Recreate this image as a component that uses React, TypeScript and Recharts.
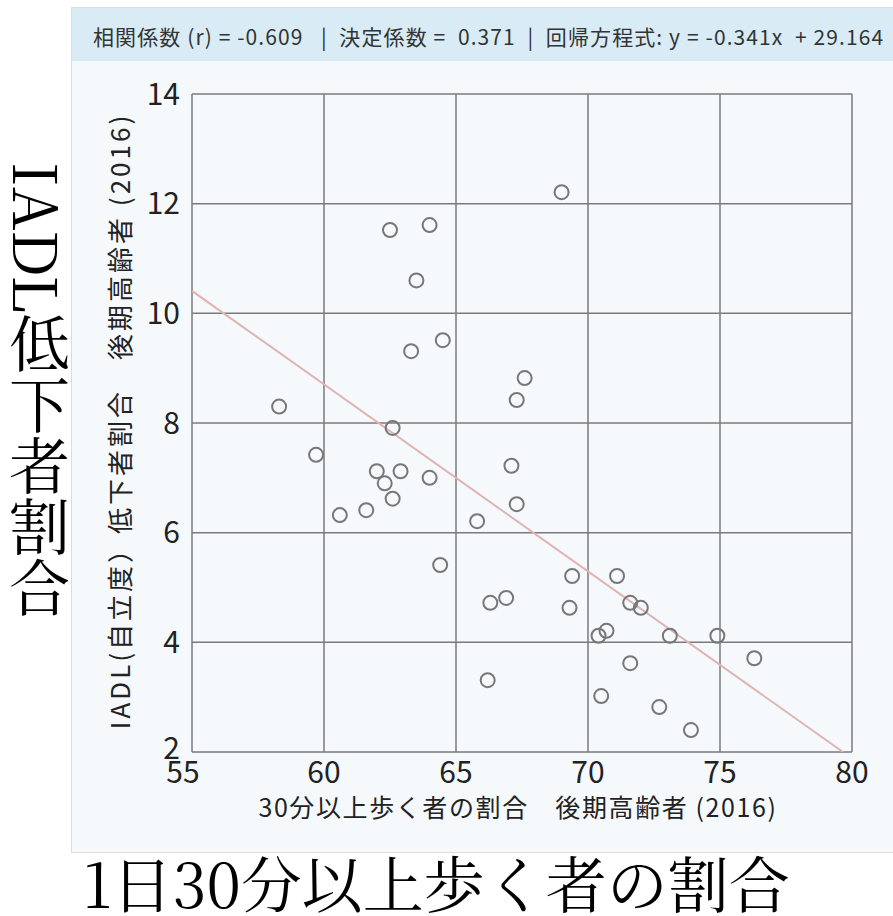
import React from "react";
import { ScatterChart, Scatter, XAxis, YAxis, CartesianGrid, ReferenceLine, Label } from "recharts";

const walkRatio = [58.3, 59.7, 60.6, 61.6, 62.0, 62.3, 62.6, 62.6, 62.9, 62.5, 64.0, 63.5, 63.3, 64.5, 64.0, 64.4, 65.8, 66.2, 66.3, 66.9, 67.1, 67.3, 67.6, 67.3, 69.0, 69.4, 69.3, 70.4, 70.7, 70.5, 71.1, 71.6, 72.0, 71.6, 72.7, 73.1, 73.9, 74.9, 76.3];
const iadlRatio = [8.3, 7.42, 6.32, 6.41, 7.12, 6.9, 6.62, 7.91, 7.12, 11.52, 11.61, 10.6, 9.31, 9.51, 7.0, 5.41, 6.21, 3.31, 4.72, 4.81, 7.22, 8.42, 8.82, 6.52, 12.21, 5.21, 4.63, 4.12, 4.21, 3.02, 5.21, 4.72, 4.63, 3.62, 2.82, 4.12, 2.4, 4.12, 3.71];
const xTicks = [55, 60, 65, 70, 75, 80];
const yTicks = [2, 4, 6, 8, 10, 12, 14];
const slope = -0.341;
const intercept = 29.164;
const regressionX = [55, 79.66];

const points = walkRatio.map((x, i) => ({ x, y: iadlRatio[i] }));
const regSegment = regressionX.map((x) => ({ x, y: slope * x + intercept }));

const headerText = "相関係数 (r) = -0.609   |  決定係数 =  0.371  |  回帰方程式: y = -0.341x  + 29.164";
const xAxisTitle = "30分以上歩く者の割合　後期高齢者 (2016)";
const yAxisTitle = "IADL(自立度）低下者割合　後期高齢者 (2016)";
const outerYTitle = "IADL低下者割合";
const outerXTitle = "1日30分以上歩く者の割合";

const sans = '"Noto Sans CJK JP", "Noto Sans", sans-serif';
const serif = '"Noto Serif CJK JP", "Liberation Serif", "DejaVu Serif", "Noto Sans CJK JP", serif';

const Circle = (props: any) => {
  const { cx, cy } = props;
  return <circle cx={cx} cy={cy} r={7} fill="#ffffff" fillOpacity={0} stroke="#777777" strokeWidth={2} />;
};

const XTick = (props: any) => {
  const { x, y, payload } = props;
  const dx = payload.value === 55 ? -9 : 0;
  return (
    <text x={x + dx} y={y} dy="0.71em" textAnchor="middle" fontSize={30} fontFamily={sans} fill="#222">
      {payload.value}
    </text>
  );
};

const YTick = (props: any) => {
  const { x, y, payload } = props;
  const dy = payload.value === 2 ? -4 : 0;
  return (
    <text x={x} y={y + dy} dy="0.355em" textAnchor="end" fontSize={30} fontFamily={sans} fill="#222">
      {payload.value}
    </text>
  );
};

export default function App() {
  return (
    <div style={{ position: "absolute", left: 0, top: 0, width: 893, height: 916, background: "#ffffff", overflow: "hidden" }}>
      <div style={{ position: "absolute", left: 71, top: 7, width: 830, height: 844, background: "#f5f9fc", border: "1px solid #dcdcdc" }} />
      <div style={{ position: "absolute", left: 72, top: 8, width: 830, height: 53, background: "#d9ecf6" }} />
      <div style={{ position: "absolute", left: 93, top: 20, fontFamily: sans, fontSize: 21, letterSpacing: 1.1, color: "#333", whiteSpace: "pre", lineHeight: "32px" }}>{headerText}</div>
      <div style={{ position: "absolute", left: 0, top: 0 }}>
        <ScatterChart width={893} height={916} margin={{ top: 94, right: 41, bottom: 104, left: 92 }}>
          <CartesianGrid stroke="#7a7a7a" strokeWidth={1.5} horizontalValues={yTicks} verticalValues={xTicks} />
          <XAxis
            type="number"
            dataKey="x"
            domain={[55, 80]}
            ticks={xTicks}
            height={60}
            axisLine={false}
            tickLine={false}
            tickMargin={4}
            tick={<XTick />}
            allowDataOverflow
          >
            <Label
              content={(p: any) => {
                const vb = p.viewBox;
                return (
                  <text x={vb.x + vb.width / 2 - 4} y={vb.y + 65} textAnchor="middle" fontSize={25} letterSpacing={1.6} fontFamily={sans} fill="#222">
                    {xAxisTitle}
                  </text>
                );
              }}
            />
          </XAxis>
          <YAxis
            type="number"
            dataKey="y"
            domain={[2, 14]}
            ticks={yTicks}
            width={100}
            axisLine={false}
            tickLine={false}
            tickMargin={6}
            tick={<YTick />}
            allowDataOverflow
          >
            <Label
              content={(p: any) => {
                const vb = p.viewBox;
                const cx = vb.x + 26;
                const cy = vb.y + vb.height / 2 - 2;
                return (
                  <text x={cx} y={cy} transform={`rotate(-90 ${cx} ${cy})`} textAnchor="middle" dominantBaseline="central" fontSize={26} letterSpacing={3} fontFamily={sans} fill="#222">
                    {yAxisTitle}
                  </text>
                );
              }}
            />
          </YAxis>
          <ReferenceLine segment={regSegment} stroke="#e0b4b4" strokeWidth={2} ifOverflow="hidden" />
          <Scatter data={points} shape={<Circle />} isAnimationActive={false} />
        </ScatterChart>
      </div>
      <div style={{ position: "absolute", left: 6, top: 162, width: 66, height: 480, writingMode: "vertical-rl", fontFamily: serif, fontSize: 61, lineHeight: "66px", color: "#000" }}>
        {outerYTitle}
      </div>
      <div style={{ position: "absolute", left: 83, top: 851, fontFamily: serif, fontSize: 61, lineHeight: "62px", color: "#000", whiteSpace: "pre" }}>
        {outerXTitle}
      </div>
    </div>
  );
}
